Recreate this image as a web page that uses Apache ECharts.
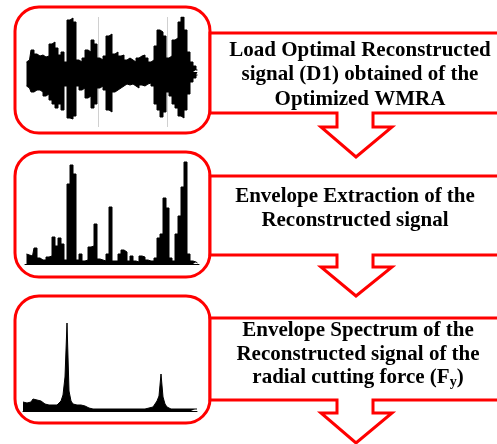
<!DOCTYPE html>
<html><head><meta charset="utf-8">
<script src="https://cdn.jsdelivr.net/npm/echarts@6/dist/echarts.min.js"></script>
<style>html,body{margin:0;padding:0;background:#fff}#c{width:497px;height:444px}</style>
</head><body><div id="c"></div>
<script>
// Panel 1: reconstructed signal D1 (upper / lower excursion per time slice)
const waveUpper = [10,12,22,18,16,17,15,16,28,30, 24,17,20,10,52,54,50,12,10,14, 22,20,32,28,14,12,16,36,38,18, 20,16,17,12,14,12,10,14,16,17, 14,10,12,26,42,40,36,14,16,32, 34,50,55,42,20,10,6,2];
const waveLower = [-14,-16,-20,-18,-18,-20,-24,-22,-28,-32, -36,-32,-38,-14,-46,-47,-44,-14,-18,-16, -26,-24,-36,-32,-16,-14,-18,-38,-40,-20, -18,-16,-14,-12,-13,-12,-14,-16,-13,-14, -12,-11,-14,-32,-38,-45,-40,-20,-24,-32, -36,-44,-46,-38,-22,-10,-6,-3];
// Panel 2: envelope of reconstructed signal
const envelope = [10,9,8,16,6,4,4,7,8,27, 18,26,20,4,80,99,90,4,10,3, 4,17,18,40,5,4,3,10,57,3, 3,10,14,12,3,8,3,2,8,7, 4,3,3,6,26,30,66,56,6,3, 30,48,77,102,10,3,2,1];
// Panel 3: envelope spectrum
const spectrum = [9,11,8,10,9,12,10,11,9,10, 8,7,7,6,5,6,5,6,8,10, 16,34,88,20,10,7,8,6,7,6, 5,5,4,3,2,2,2,2,2,2, 2,2,2,2,2,2,2,2,2,2, 2,2,2,2,2,2,2,2,2,2, 2,2,2,3,3,4,6,10,15,37, 14,7,4,2,2,2,2,2,2,2, 2,2,2,2,2,2,2,2];
const gridMarks = [24, 47];
const box1Lines = ['Load Optimal Reconstructed', 'signal (D1) obtained of the', 'Optimized WMRA'];
const box2Lines = ['Envelope Extraction of the', 'Reconstructed signal'];
const box3Lines = ['Envelope Spectrum of the', 'Reconstructed signal of the', 'radial cutting force (F{s|y})'];

const cats1 = waveUpper.map((_, i) => String(i));
const cats2 = envelope.map((_, i) => String(i));
const cats3 = spectrum.map((_, i) => String(i));

const RED = '#ff0000';
const FONT = '"Liberation Serif","Times New Roman",serif';

function roundBox(y, h) {
  return {type: 'rect', shape: {x: 15, y: y, width: 195, height: h, r: 24},
    style: {fill: 'none', stroke: RED, lineWidth: 3}, z: 1};
}
function textBox(top, bottom, stemBot, tip) {
  return {type: 'polygon', shape: {points: [
    [210, top], [505, top], [505, bottom], [373, bottom], [373, stemBot], [392, stemBot],
    [356, tip], [321, stemBot], [337, stemBot], [337, bottom], [210, bottom]
  ]}, style: {fill: '#fff', stroke: RED, lineWidth: 3}, z: 1};
}
function textLines(lines, cx, ys) {
  return lines.map((t, i) => ({type: 'text', x: cx, y: ys[i], z: 5,
    style: {text: t, fill: '#000', font: 'bold 21px ' + FONT, align: 'center', verticalAlign: 'middle',
      rich: {s: {fontSize: 14, fontWeight: 'bold', fontFamily: FONT, verticalAlign: 'bottom', padding: [8, 0, 0, 0]}}}}));
}
function stepArea(xi, yi, data, extra) {
  return Object.assign({type: 'line', xAxisIndex: xi, yAxisIndex: yi, data: data, step: 'middle', symbol: 'none',
    lineStyle: {color: '#000', width: 1}, areaStyle: {color: '#000', opacity: 1}, silent: true}, extra || {});
}

const chart = echarts.init(document.getElementById('c'), null, {renderer: 'canvas'});
chart.setOption({
  animation: false,
  backgroundColor: '#fff',
  grid: [
    {left: 25, width: 174, top: 17, height: 110},
    {left: 25, width: 174, top: 160, height: 104},
    {left: 23, width: 174, top: 311, height: 100}
  ],
  xAxis: [
    {type: 'category', gridIndex: 0, data: cats1, show: false},
    {type: 'category', gridIndex: 1, data: cats2, axisLine: {lineStyle: {color: '#000', width: 1}}, axisTick: {show: false}, axisLabel: {show: false}},
    {type: 'category', gridIndex: 2, data: cats3, boundaryGap: false, axisLine: {lineStyle: {color: '#000', width: 1}}, axisTick: {show: false}, axisLabel: {show: false}}
  ],
  yAxis: [
    {type: 'value', gridIndex: 0, min: -55, max: 55, show: false},
    {type: 'value', gridIndex: 1, min: 0, max: 104, show: false},
    {type: 'value', gridIndex: 2, min: 0, max: 100, show: false}
  ],
  series: [
    stepArea(0, 0, waveUpper, {z: 3, markLine: {silent: true, symbol: 'none', label: {show: false}, z: 1,
      lineStyle: {color: '#d0d0d0', width: 1, type: 'solid'}, data: gridMarks.map(v => ({xAxis: v}))}}),
    stepArea(0, 0, waveLower, {z: 3}),
    stepArea(1, 1, envelope),
    {type: 'line', xAxisIndex: 2, yAxisIndex: 2, data: spectrum, symbol: 'none',
      lineStyle: {color: '#000', width: 1}, areaStyle: {color: '#000', opacity: 1}, silent: true}
  ],
  graphic: [
    roundBox(7, 126), roundBox(152, 125), roundBox(296, 127),
    textBox(33, 113, 127, 157), textBox(176, 255, 267, 296), textBox(318, 400, 413, 443),
    ...textLines(box1Lines, 360, [51, 75, 100]),
    ...textLines(box2Lines, 355, [197, 221]),
    ...textLines(box3Lines, 358, [331, 355, 378])
  ]
});
</script></body></html>
